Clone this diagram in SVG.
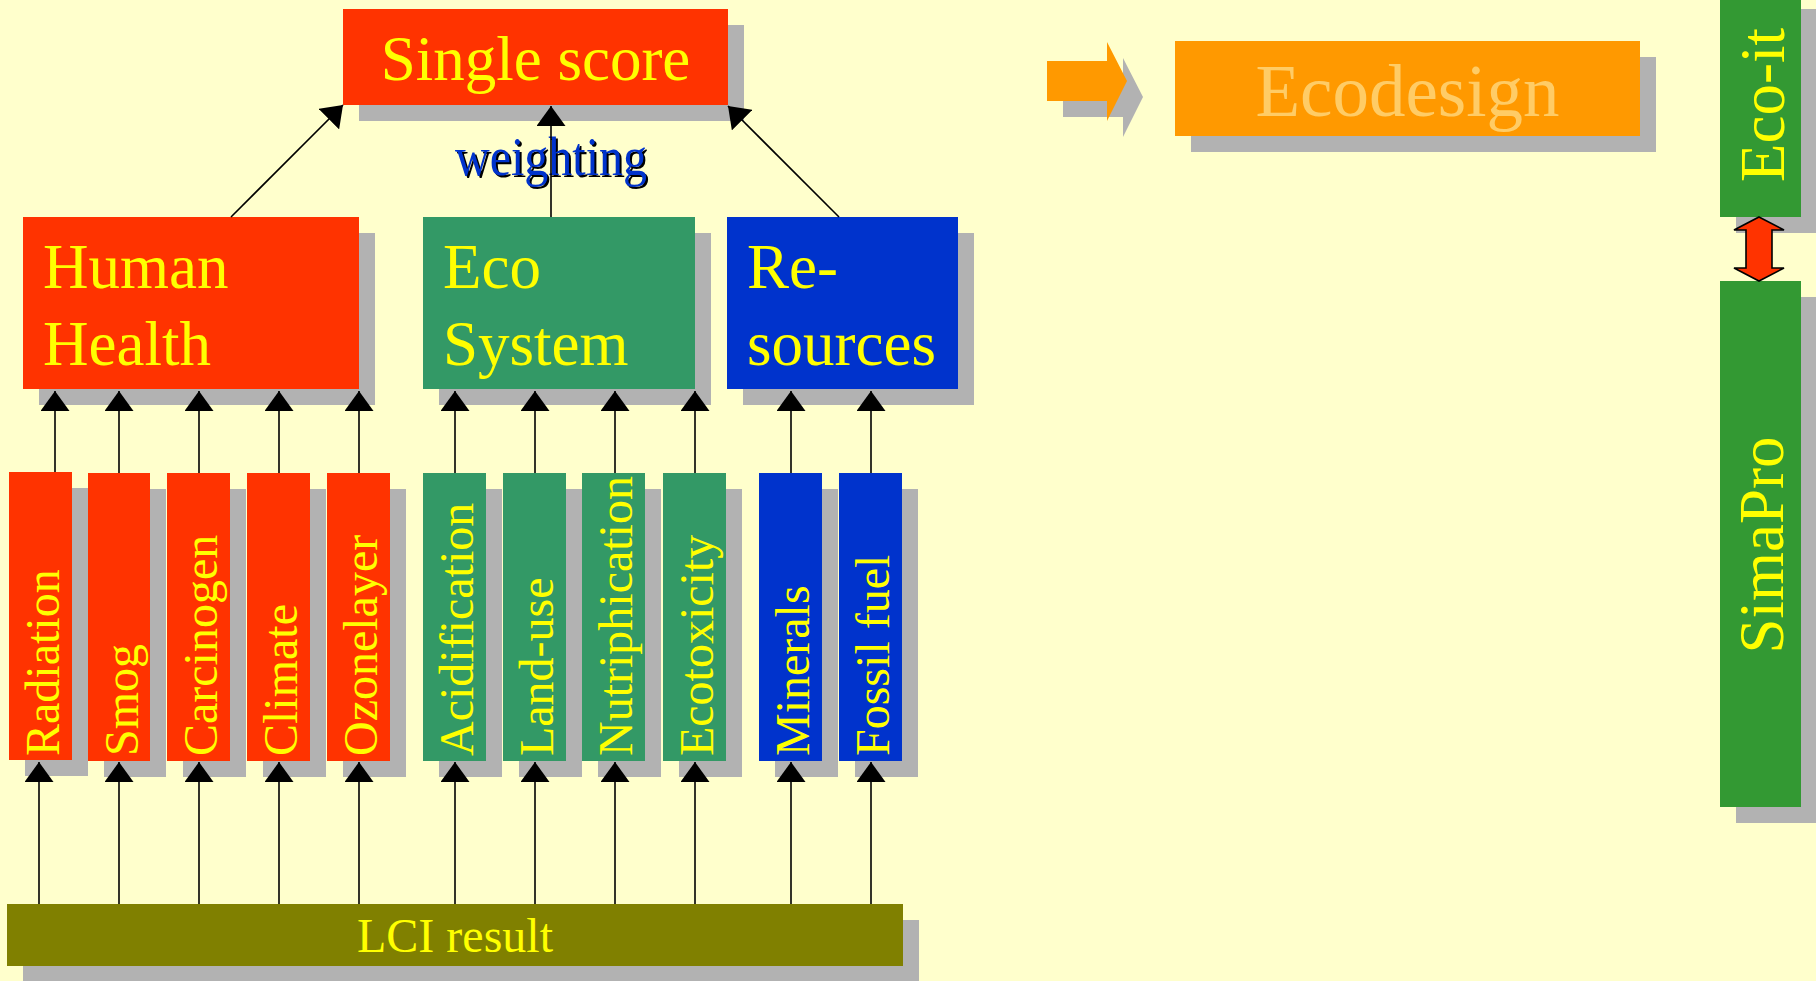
<svg xmlns="http://www.w3.org/2000/svg" width="1816" height="981" viewBox="0 0 1816 981">
  <style>
    .shadow { fill: #B2B2B2; }
    .red { fill: #FF3300; }
    .green { fill: #339966; }
    .blue { fill: #0033CC; }
    .olive { fill: #808000; }
    .tool { fill: #339933; }
    .lbl { font-family: "Liberation Serif", "Times New Roman", serif; fill: #FFFF00; }
    .big { font-size: 63px; }
    .bar { font-size: 48px; }
    .conn line { stroke: #000000; stroke-width: 1.6; marker-end: url(#head); }
  </style>
  <defs>
    <marker id="head" markerUnits="userSpaceOnUse" markerWidth="20" markerHeight="29" refX="20" refY="14.5" orient="auto">
      <path d="M0,0 L20,14.5 L0,29 Z" fill="#000000"/>
    </marker>
  </defs>

  <!-- background -->
  <rect x="0" y="0" width="1816" height="981" fill="#FFFFCC"/>

  <!-- top level -->
  <g id="single-score">
    <rect class="shadow" x="359" y="25" width="385" height="96"/>
    <rect class="red" x="343" y="9" width="385" height="96"/>
    <text class="lbl big" x="535.5" y="80" text-anchor="middle">Single score</text>
  </g>

  <!-- damage categories -->
  <g id="human-health">
    <rect class="shadow" x="39" y="233" width="336" height="172"/>
    <rect class="red" x="23" y="217" width="336" height="172"/>
    <text class="lbl big" x="43" y="288">Human</text>
    <text class="lbl big" x="43" y="365">Health</text>
  </g>
  <g id="eco-system">
    <rect class="shadow" x="439" y="233" width="272" height="172"/>
    <rect class="green" x="423" y="217" width="272" height="172"/>
    <text class="lbl big" x="443" y="288">Eco</text>
    <text class="lbl big" x="443" y="365">System</text>
  </g>
  <g id="resources">
    <rect class="shadow" x="743" y="233" width="231" height="172"/>
    <rect class="blue" x="727" y="217" width="231" height="172"/>
    <text class="lbl big" x="747" y="288">Re-</text>
    <text class="lbl big" x="747" y="365">sources</text>
  </g>

  <!-- impact categories -->
  <g id="radiation">
    <rect class="shadow" x="25" y="488" width="63" height="288"/>
    <rect class="red" x="9" y="472" width="63" height="288"/>
    <text class="lbl bar" transform="translate(59,756) rotate(-90)">Radiation</text>
  </g>
  <g id="smog">
    <rect class="shadow" x="104" y="489" width="62" height="288"/>
    <rect class="red" x="88" y="473" width="62" height="288"/>
    <text class="lbl bar" transform="translate(138,756) rotate(-90)">Smog</text>
  </g>
  <g id="carcinogen">
    <rect class="shadow" x="183" y="489" width="63" height="288"/>
    <rect class="red" x="167" y="473" width="63" height="288"/>
    <text class="lbl bar" transform="translate(217,756) rotate(-90)">Carcinogen</text>
  </g>
  <g id="climate">
    <rect class="shadow" x="263" y="489" width="63" height="288"/>
    <rect class="red" x="247" y="473" width="63" height="288"/>
    <text class="lbl bar" transform="translate(297,756) rotate(-90)">Climate</text>
  </g>
  <g id="ozonelayer">
    <rect class="shadow" x="343" y="489" width="63" height="288"/>
    <rect class="red" x="327" y="473" width="63" height="288"/>
    <text class="lbl bar" transform="translate(377,756) rotate(-90)">Ozonelayer</text>
  </g>
  <g id="acidification">
    <rect class="shadow" x="439" y="489" width="63" height="288"/>
    <rect class="green" x="423" y="473" width="63" height="288"/>
    <text class="lbl bar" transform="translate(473,756) rotate(-90)">Acidification</text>
  </g>
  <g id="land-use">
    <rect class="shadow" x="519" y="489" width="63" height="288"/>
    <rect class="green" x="503" y="473" width="63" height="288"/>
    <text class="lbl bar" transform="translate(553,756) rotate(-90)">Land-use</text>
  </g>
  <g id="nutriphication">
    <rect class="shadow" x="598" y="489" width="63" height="288"/>
    <rect class="green" x="582" y="473" width="63" height="288"/>
    <text class="lbl bar" transform="translate(632,756) rotate(-90)">Nutriphication</text>
  </g>
  <g id="ecotoxicity">
    <rect class="shadow" x="679" y="489" width="63" height="288"/>
    <rect class="green" x="663" y="473" width="63" height="288"/>
    <text class="lbl bar" transform="translate(713,756) rotate(-90)">Ecotoxicity</text>
  </g>
  <g id="minerals">
    <rect class="shadow" x="775" y="489" width="63" height="288"/>
    <rect class="blue" x="759" y="473" width="63" height="288"/>
    <text class="lbl bar" transform="translate(809,756) rotate(-90)">Minerals</text>
  </g>
  <g id="fossil-fuel">
    <rect class="shadow" x="855" y="489" width="63" height="288"/>
    <rect class="blue" x="839" y="473" width="63" height="288"/>
    <text class="lbl bar" transform="translate(889,756) rotate(-90)">Fossil fuel</text>
  </g>

  <!-- inventory -->
  <g id="lci-result">
    <rect class="shadow" x="23" y="920" width="896" height="62"/>
    <rect class="olive" x="7" y="904" width="896" height="62"/>
    <text class="lbl bar" x="455" y="952" text-anchor="middle">LCI result</text>
  </g>

  <!-- weighting label on the Eco System link -->
  <g id="weighting-label" font-family="'Liberation Serif', 'Times New Roman', serif" font-size="54" text-anchor="middle">
    <text x="553" y="177" fill="#000000" textLength="192" lengthAdjust="spacingAndGlyphs">weighting</text>
    <text x="551" y="175" fill="#0033CC" textLength="192" lengthAdjust="spacingAndGlyphs">weighting</text>
  </g>

  <g id="connectors" class="conn">
    <!-- damage categories to single score -->
    <line x1="231" y1="217" x2="343" y2="105"/>
    <line x1="551" y1="217" x2="551" y2="106"/>
    <line x1="839" y1="217" x2="728" y2="106"/>
    <!-- impact categories to damage categories -->
    <line x1="55" y1="472" x2="55" y2="391"/>
    <line x1="119" y1="473" x2="119" y2="391"/>
    <line x1="199" y1="473" x2="199" y2="391"/>
    <line x1="279" y1="473" x2="279" y2="391"/>
    <line x1="359" y1="473" x2="359" y2="391"/>
    <line x1="455" y1="473" x2="455" y2="391"/>
    <line x1="535" y1="473" x2="535" y2="391"/>
    <line x1="615" y1="473" x2="615" y2="391"/>
    <line x1="695" y1="473" x2="695" y2="391"/>
    <line x1="791" y1="473" x2="791" y2="391"/>
    <line x1="871" y1="473" x2="871" y2="391"/>
    <!-- inventory to impact categories -->
    <line x1="39" y1="904" x2="39" y2="762"/>
    <line x1="119" y1="904" x2="119" y2="762"/>
    <line x1="199" y1="904" x2="199" y2="762"/>
    <line x1="279" y1="904" x2="279" y2="762"/>
    <line x1="359" y1="904" x2="359" y2="762"/>
    <line x1="455" y1="904" x2="455" y2="762"/>
    <line x1="535" y1="904" x2="535" y2="762"/>
    <line x1="615" y1="904" x2="615" y2="762"/>
    <line x1="695" y1="904" x2="695" y2="762"/>
    <line x1="791" y1="904" x2="791" y2="762"/>
    <line x1="871" y1="904" x2="871" y2="762"/>
  </g>

  <!-- ecodesign -->
  <g id="ecodesign-arrow">
    <polygon class="shadow" points="1063,77 1123,77 1123,58 1143,97 1123,137 1123,117 1063,117"/>
    <polygon fill="#FF9900" points="1047,61 1107,61 1107,42 1127,81 1107,121 1107,101 1047,101"/>
  </g>
  <g id="ecodesign">
    <rect class="shadow" x="1191" y="57" width="465" height="95"/>
    <rect fill="#FF9900" x="1175" y="41" width="465" height="95"/>
    <text x="1407.5" y="116" text-anchor="middle" font-family="'Liberation Serif', 'Times New Roman', serif" font-size="73" fill="#FFCC66">Ecodesign</text>
  </g>

  <!-- software -->
  <g id="eco-it">
    <rect class="shadow" x="1736" y="9" width="81" height="224"/>
    <rect class="tool" x="1720" y="-7" width="81" height="224"/>
    <text class="lbl big" text-anchor="middle" transform="translate(1784,105) rotate(-90)">Eco-it</text>
  </g>
  <g id="simapro">
    <rect class="shadow" x="1736" y="297" width="81" height="526"/>
    <rect class="tool" x="1720" y="281" width="81" height="526"/>
    <text class="lbl big" text-anchor="middle" transform="translate(1783,545) rotate(-90)">SimaPro</text>
  </g>
  <g id="link-arrow">
    <polygon fill="#FF3300" stroke="#000000" stroke-width="1.6" stroke-linejoin="miter"
      points="1759,217 1784,230 1772,230 1772,268 1784,268 1759,281 1734,268 1746,268 1746,230 1734,230"/>
  </g>
</svg>
